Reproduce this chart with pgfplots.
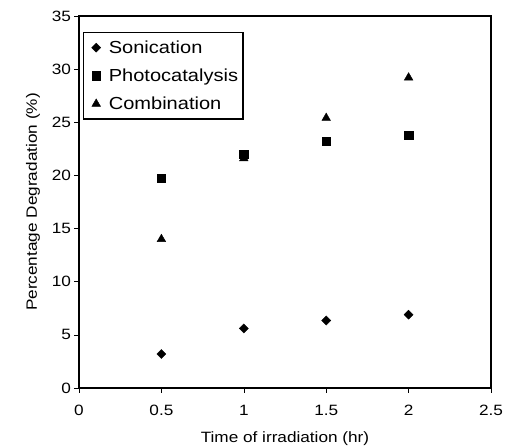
\documentclass[border=0pt]{standalone}
\usepackage{fontspec}
\setmainfont{Liberation Sans}[FakeStretch=1.15]
\usepackage{pgfplots}
\pgfplotsset{compat=1.18}
\begin{document}
\begin{tikzpicture}
\begin{axis}[
  scale only axis,
  width=412bp, height=372bp,
  xmin=0, xmax=2.5, ymin=0, ymax=35,
  xtick={0,0.5,1,1.5,2,2.5},
  ytick={0,5,10,15,20,25,30,35},
  xticklabels={0,0.5,1,1.5,2,2.5},
  yticklabels={0,5,10,15,20,25,30,35},
  tick align=outside,
  tick pos=left,
  major tick length=4.5bp,
  tick style={black, line width=0.6bp},
  axis line style={line width=1.4bp},
  tick label style={font=\fontsize{15}{17}\selectfont},
  xticklabel style={yshift=-9bp},
  yticklabel style={xshift=0bp},
  xlabel={Time of irradiation (hr)},
  ylabel={Percentage Degradation (\%)},
  label style={font=\fontsize{15}{17}\selectfont},
  xlabel style={at={(rel axis cs:0.5,0)}, anchor=center, yshift=-51bp},
  ylabel style={at={(rel axis cs:0,0.5)}, anchor=center, yshift=46bp},
  legend style={at={(rel axis cs:0,1)}, anchor=north west, xshift=4bp, yshift=-16bp,
    draw=black, line width=1.2bp, font=\fontsize{17.5}{19}\selectfont,
    row sep=10bp, inner xsep=3bp, inner ysep=6bp, cells={anchor=west}},
  legend image code/.code={\path (0bp,0bp) (19bp,0bp); \draw[#1] plot coordinates {(9bp,0bp)};},
]
\addplot[only marks, mark=square*, mark size=3.2bp, black, mark options={line width=0.4bp, rotate=45}] coordinates {
(0.5,3.2) (1,5.6) (1.5,6.35) (2,6.9)};
\addlegendentry{Sonication}
\addplot[only marks, mark=square*, mark size=4.2bp, black, mark options={line width=0.4bp}] coordinates {
(0.5,19.75) (1,22.0) (1.5,23.2) (2,23.8)};
\addlegendentry{Photocatalysis}
\addplot[only marks, mark=triangle*, mark size=5bp, black, mark options={line width=0.4bp}] coordinates {
(0.5,14.0) (1,21.6) (1.5,25.4) (2,29.2)};
\addlegendentry{Combination}
\coordinate (SW) at (rel axis cs:0,0);
\coordinate (NE) at (rel axis cs:1,1);
\end{axis}
\pgfresetboundingbox
\path[use as bounding box] ([xshift=-79bp,yshift=-60bp]SW) rectangle ([xshift=15bp,yshift=16bp]NE);
\end{tikzpicture}
\end{document}
